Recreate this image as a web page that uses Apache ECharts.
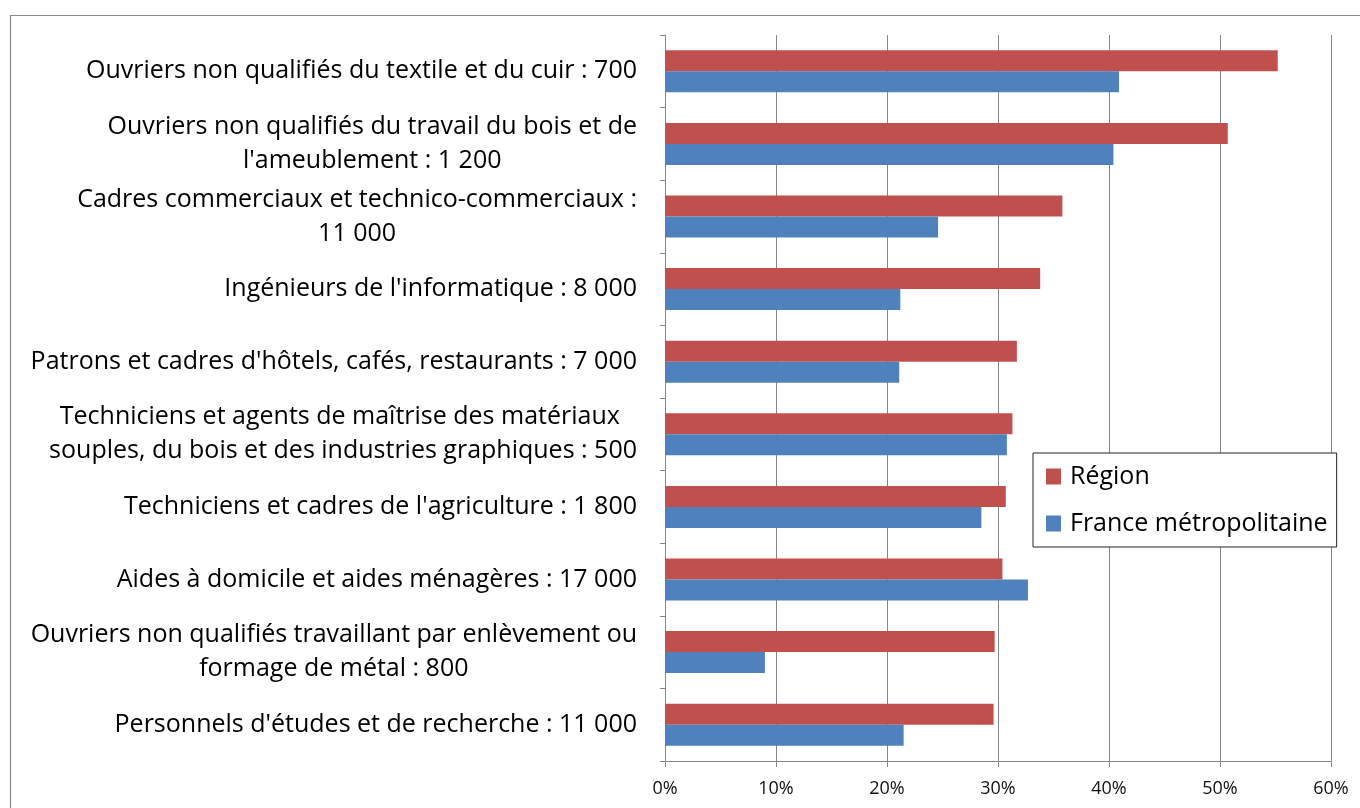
<!DOCTYPE html>
<html>
<head>
<meta charset="utf-8">
<script src="https://cdn.jsdelivr.net/npm/echarts@6/dist/echarts.min.js"></script>
<style>
  html, body { margin: 0; padding: 0; background: #fff; }
  #chart { width: 1360px; height: 808px; }
</style>
</head>
<body>
<div id="chart"></div>
<script>
// categories, top to bottom
const categories = [
  'Ouvriers non qualifiés du textile et du cuir : 700',
  "Ouvriers non qualifiés du travail du bois et de\nl'ameublement : 1 200",
  'Cadres commerciaux et technico-commerciaux :\n11 000',
  "Ingénieurs de l'informatique : 8 000",
  "Patrons et cadres d'hôtels, cafés, restaurants : 7 000",
  'Techniciens et agents de maîtrise des matériaux \nsouples, du bois et des industries graphiques : 500',
  "Techniciens et cadres de l'agriculture : 1 800",
  'Aides à domicile et aides ménagères : 17 000',
  'Ouvriers non qualifiés travaillant par enlèvement ou\nformage de métal : 800',
  "Personnels d'études et de recherche : 11 000"
];
const region = [55.2, 50.7, 35.8, 33.8, 31.7, 31.3, 30.7, 30.4, 29.7, 29.6];
const france = [40.9, 40.4, 24.6, 21.2, 21.1, 30.8, 28.5, 32.7, 9.0, 21.5];
const seriesNames = ['Région', 'France métropolitaine'];

const FONT = 'Open Sans';
const GRAY = '#868686';

const chart = echarts.init(document.getElementById('chart'));

chart.setOption({
  animation: false,
  backgroundColor: '#fff',
  textStyle: { fontFamily: FONT },
  graphic: [{
    type: 'rect',
    shape: { x: 10.5, y: 15.5, width: 1400, height: 900 },
    style: { fill: 'none', stroke: '#8a8a8a', lineWidth: 1.2 },
    silent: true
  }],
  grid: { left: 665, right: 29, top: 35, bottom: 47 },
  legend: {
    orient: 'vertical',
    left: 1033,
    top: 453,
    padding: [11, 9, 11, 13],
    itemWidth: 15,
    itemHeight: 16,
    itemGap: 22,
    icon: 'rect',
    backgroundColor: '#fff',
    borderColor: '#222',
    borderWidth: 1,
    textStyle: { fontFamily: FONT, fontSize: 25, lineHeight: 24, color: '#000', padding: [0, 0, 0, 4] },
    data: seriesNames
  },
  xAxis: {
    type: 'value',
    min: 0,
    max: 60,
    interval: 10,
    axisLine: { show: true, lineStyle: { color: GRAY } },
    axisTick: { show: true, length: 6, lineStyle: { color: GRAY } },
    splitLine: { show: true, lineStyle: { color: GRAY, width: 1 } },
    axisLabel: { formatter: '{value}%', fontFamily: FONT, fontSize: 18, color: '#111', margin: 19 }
  },
  yAxis: {
    type: 'category',
    inverse: true,
    data: categories,
    axisLine: { show: true, lineStyle: { color: GRAY } },
    axisTick: { show: true, length: 5, lineStyle: { color: GRAY } },
    axisLabel: {
      margin: 28,
      formatter: v => v.split('\n').map(l => '{c|' + l + '}').join('\n'),
      rich: {
        c: { align: 'center', fontFamily: FONT, fontSize: 25, lineHeight: 34, color: '#000' }
      }
    }
  },
  series: [
    {
      name: seriesNames[0],
      type: 'bar',
      data: region,
      barWidth: 21,
      barGap: '0%',
      itemStyle: { color: '#C0504D' }
    },
    {
      name: seriesNames[1],
      type: 'bar',
      data: france,
      barWidth: 21,
      barGap: '0%',
      itemStyle: { color: '#4F81BD' }
    }
  ]
});
</script>
</body>
</html>
